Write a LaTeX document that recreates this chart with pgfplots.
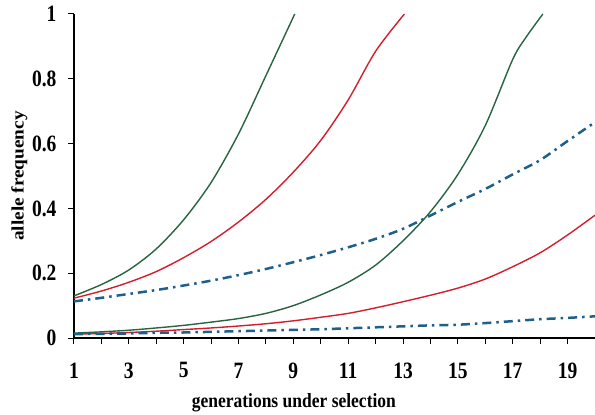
\documentclass[border=0pt]{standalone}
\usepackage{fontspec}
\setmainfont{Liberation Serif}
\usepackage{pgfplots}
\pgfplotsset{compat=1.18}

\definecolor{cgreen}{RGB}{40,100,65}
\definecolor{cred}{RGB}{210,30,45}
\definecolor{cblue}{RGB}{30,95,140}

\begin{document}
\begin{tikzpicture}
\begin{axis}[
    scale only axis,
    width=521pt, height=324pt,
    xmin=1, xmax=20, ymin=0, ymax=1,
    axis lines*=left,
    axis line style={line width=1.3pt},
    clip=false,
    xtick={1,3,...,19},
    minor xtick={2,4,...,20},
    ytick={0,0.2,0.4,0.6,0.8,1},
    tick align=outside,
    major tick length=6pt, minor tick length=6pt,
    tick style={line width=1pt, black},
    /pgf/number format/assume math mode=true,
    ticklabel style={font=\bfseries\fontsize{19.5}{20}\selectfont, yscale=1.2},
    xticklabel style={anchor=center, yshift=-22pt},
    yticklabel style={anchor=east, xshift=-8pt},
    xlabel={generations under selection},
    ylabel={allele frequency},
    label style={font=\bfseries\fontsize{17.5}{18}\selectfont},
    xlabel style={at={(axis description cs:0.422,-0.2)}, anchor=center, yscale=1.15},
    ylabel style={at={(axis description cs:-0.105,0.5)}, anchor=center, rotate=0, xscale=1.1},
    every axis plot/.append style={smooth, tension=0.5},
]
\coordinate (O) at (rel axis cs:0,0);

% fast selection
\addplot[cgreen, line width=1.4pt] coordinates {
(1,0.13)(2,0.165)(3,0.21)(4,0.275)(5,0.365)(6,0.48)(7,0.63)(8,0.81)(9.05,1.0)};
\addplot[cred, line width=1.4pt] coordinates {
(1,0.123)(2,0.145)(3,0.172)(4,0.205)(5,0.248)(6,0.298)(7,0.358)(8,0.428)(9,0.512)
(10,0.61)(11,0.735)(12,0.885)(13.05,1.0)};
\addplot[cblue, line width=2.5pt, dash pattern=on 9pt off 5pt on 2.5pt off 5pt] coordinates {
(1,0.113)(2,0.124)(3,0.136)(4,0.148)(5,0.162)(6,0.177)(7,0.194)(8,0.213)(9,0.234)
(10,0.256)(11,0.28)(12,0.306)(13,0.337)(14,0.378)(15,0.42)(16,0.46)(17,0.505)
(18,0.549)(19,0.608)(20,0.666)};

% low starting frequency
\addplot[cgreen, line width=1.4pt] coordinates {
(1,0.015)(2,0.019)(3,0.024)(4,0.031)(5,0.039)(6,0.049)(7,0.06)(8,0.076)(9,0.1)
(10,0.133)(11,0.172)(12,0.225)(13,0.3)(14,0.39)(15,0.505)(16,0.656)(17,0.86)
(17.5,0.93)(18.1,1.0)};
\addplot[cred, line width=1.4pt] coordinates {
(1,0.012)(2,0.014)(3,0.017)(4,0.021)(5,0.026)(6,0.031)(7,0.037)(8,0.044)(9,0.053)
(10,0.064)(11,0.076)(12,0.093)(13,0.112)(14,0.132)(15,0.154)(16,0.182)(17,0.22)
(18,0.263)(19,0.318)(20,0.379)};
\addplot[cblue, line width=2.5pt, dash pattern=on 9pt off 5pt on 2.5pt off 5pt] coordinates {
(1,0.012)(2,0.013)(3,0.014)(4,0.016)(5,0.017)(6,0.019)(7,0.021)(8,0.023)(9,0.025)
(10,0.027)(11,0.03)(12,0.033)(13,0.036)(14,0.039)(15,0.041)(16,0.046)(17,0.052)
(18,0.058)(19,0.062)(20,0.067)};
\end{axis}
\pgfresetboundingbox
\path ([shift={(-74pt,-77pt)}]O) rectangle ([shift={(521pt,338pt)}]O);
\end{tikzpicture}
\end{document}
